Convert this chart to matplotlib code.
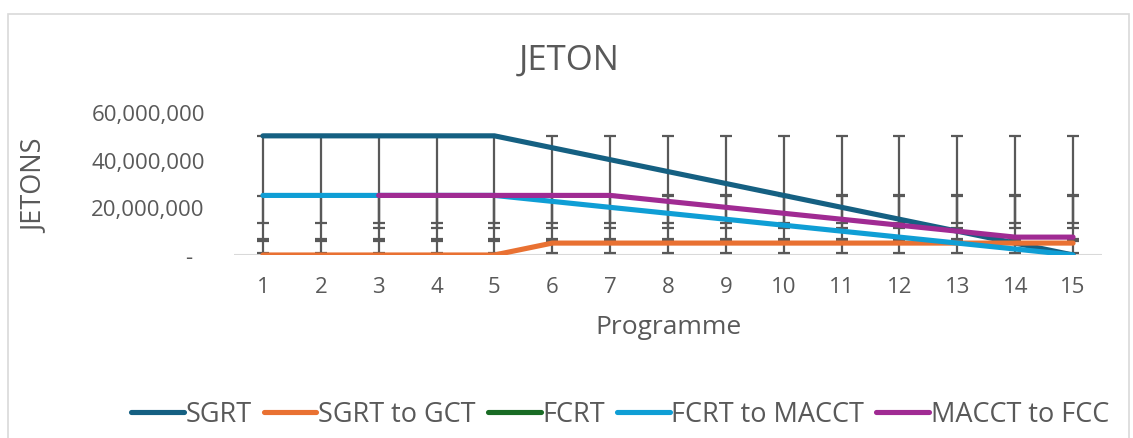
import numpy as np
import matplotlib
matplotlib.use("Agg")
import matplotlib.pyplot as plt
from matplotlib.ticker import FuncFormatter
from matplotlib.patches import Rectangle

plt.rcParams['font.family'] = ['Open Sans', 'DejaVu Sans']

nan = np.nan
programme = list(range(1, 16))

sgrt = [50e6, 50e6, 50e6, 50e6, 50e6, 45e6, 40e6, 35e6, 30e6, 25e6, 20e6, 15e6, 10e6, 5e6, 0]
sgrt_to_gct = [0, 0, 0, 0, 0, 5e6, 5e6, 5e6, 5e6, 5e6, 5e6, 5e6, 5e6, 5e6, 5e6]
fcrt = [nan] * 15
fcrt_to_macct = [25e6, 25e6, 25e6, 25e6, 25e6, 22.5e6, 20e6, 17.5e6, 15e6, 12.5e6, 10e6, 7.5e6, 5e6, 2.5e6, 0]
macct_to_fcc = [nan, nan, 25e6, 25e6, 25e6, 25e6, 25e6, 22.5e6, 20e6, 17.5e6, 15e6, 12.5e6, 10e6, 7.5e6, 7.5e6]

series = [
    ("SGRT", sgrt, "#156082"),
    ("SGRT to GCT", sgrt_to_gct, "#E97132"),
    ("FCRT", fcrt, "#196B24"),
    ("FCRT to MACCT", fcrt_to_macct, "#0F9ED5"),
    ("MACCT to FCC", macct_to_fcc, "#A02B93"),
]

txt = "#595959"
W, H = 1133, 439
fig = plt.figure(figsize=(W / 100, H / 100), dpi=100)

# chart border (cropped on right/bottom)
fig.patches.append(Rectangle((8 / W, -0.1), (1129 - 8) / W, 1 - 15 / H + 0.1,
                             transform=fig.transFigure, fill=False,
                             edgecolor="#d9d9d9", linewidth=1.2))

ax = fig.add_axes([234 / W, 1 - 256 / H, (1102 - 234) / W, (256 - 113) / H])
ax.set_xlim(0.5, 15.5)
ax.set_ylim(0, 60e6)
for s in ax.spines.values():
    s.set_visible(False)
ax.axhline(0, color="#d9d9d9", linewidth=1.5, zorder=1)

x = np.array(programme)
for name, vals, col in series:
    v = np.array(vals, dtype=float)
    ok = ~np.isnan(v)
    if ok.sum() > 1:
        # standard deviation error bars (centred on series mean)
        m = v[ok].mean()
        sd = v[ok].std(ddof=1)
        ax.errorbar(x[ok], np.full(ok.sum(), m), yerr=sd, fmt="none",
                    ecolor="#595959", elinewidth=1.6, capsize=4.5, capthick=1.6,
                    zorder=2)
for name, vals, col in series:
    ax.plot(x, vals, color=col, linewidth=3.7, label=name,
            solid_capstyle="round", solid_joinstyle="round", zorder=3)

ax.set_xticks(programme)
ax.set_yticks([0, 20e6, 40e6, 60e6])
ax.yaxis.set_major_formatter(FuncFormatter(lambda v, p: "-  " if v == 0 else f"{v:,.0f}"))
ax.tick_params(axis="both", length=0, colors=txt, labelsize=16)
ax.tick_params(axis="x", pad=15)
ax.tick_params(axis="y", pad=21)

fig.text(569 / W, 1 - 61 / H, "JETON", ha="center", va="center", fontsize=25, color=txt)
fig.text(668 / W, 1 - 327 / H, "Programme", ha="center", va="center", fontsize=19, color=txt)
fig.text(35 / W, 1 - 186 / H, "JETONS", ha="center", va="center", rotation=90,
         fontsize=19.5, color=txt)

leg = fig.legend(loc="center left", bbox_to_anchor=(120 / W, 1 - 415 / H), ncol=5,
                 frameon=False, fontsize=19.5, handlelength=1.95, handletextpad=0.06,
                 columnspacing=0.45, borderaxespad=0)
for t in leg.get_texts():
    t.set_color(txt)
for l in leg.get_lines():
    l.set_linewidth(3.7)

fig.savefig("out.png", dpi=100)
